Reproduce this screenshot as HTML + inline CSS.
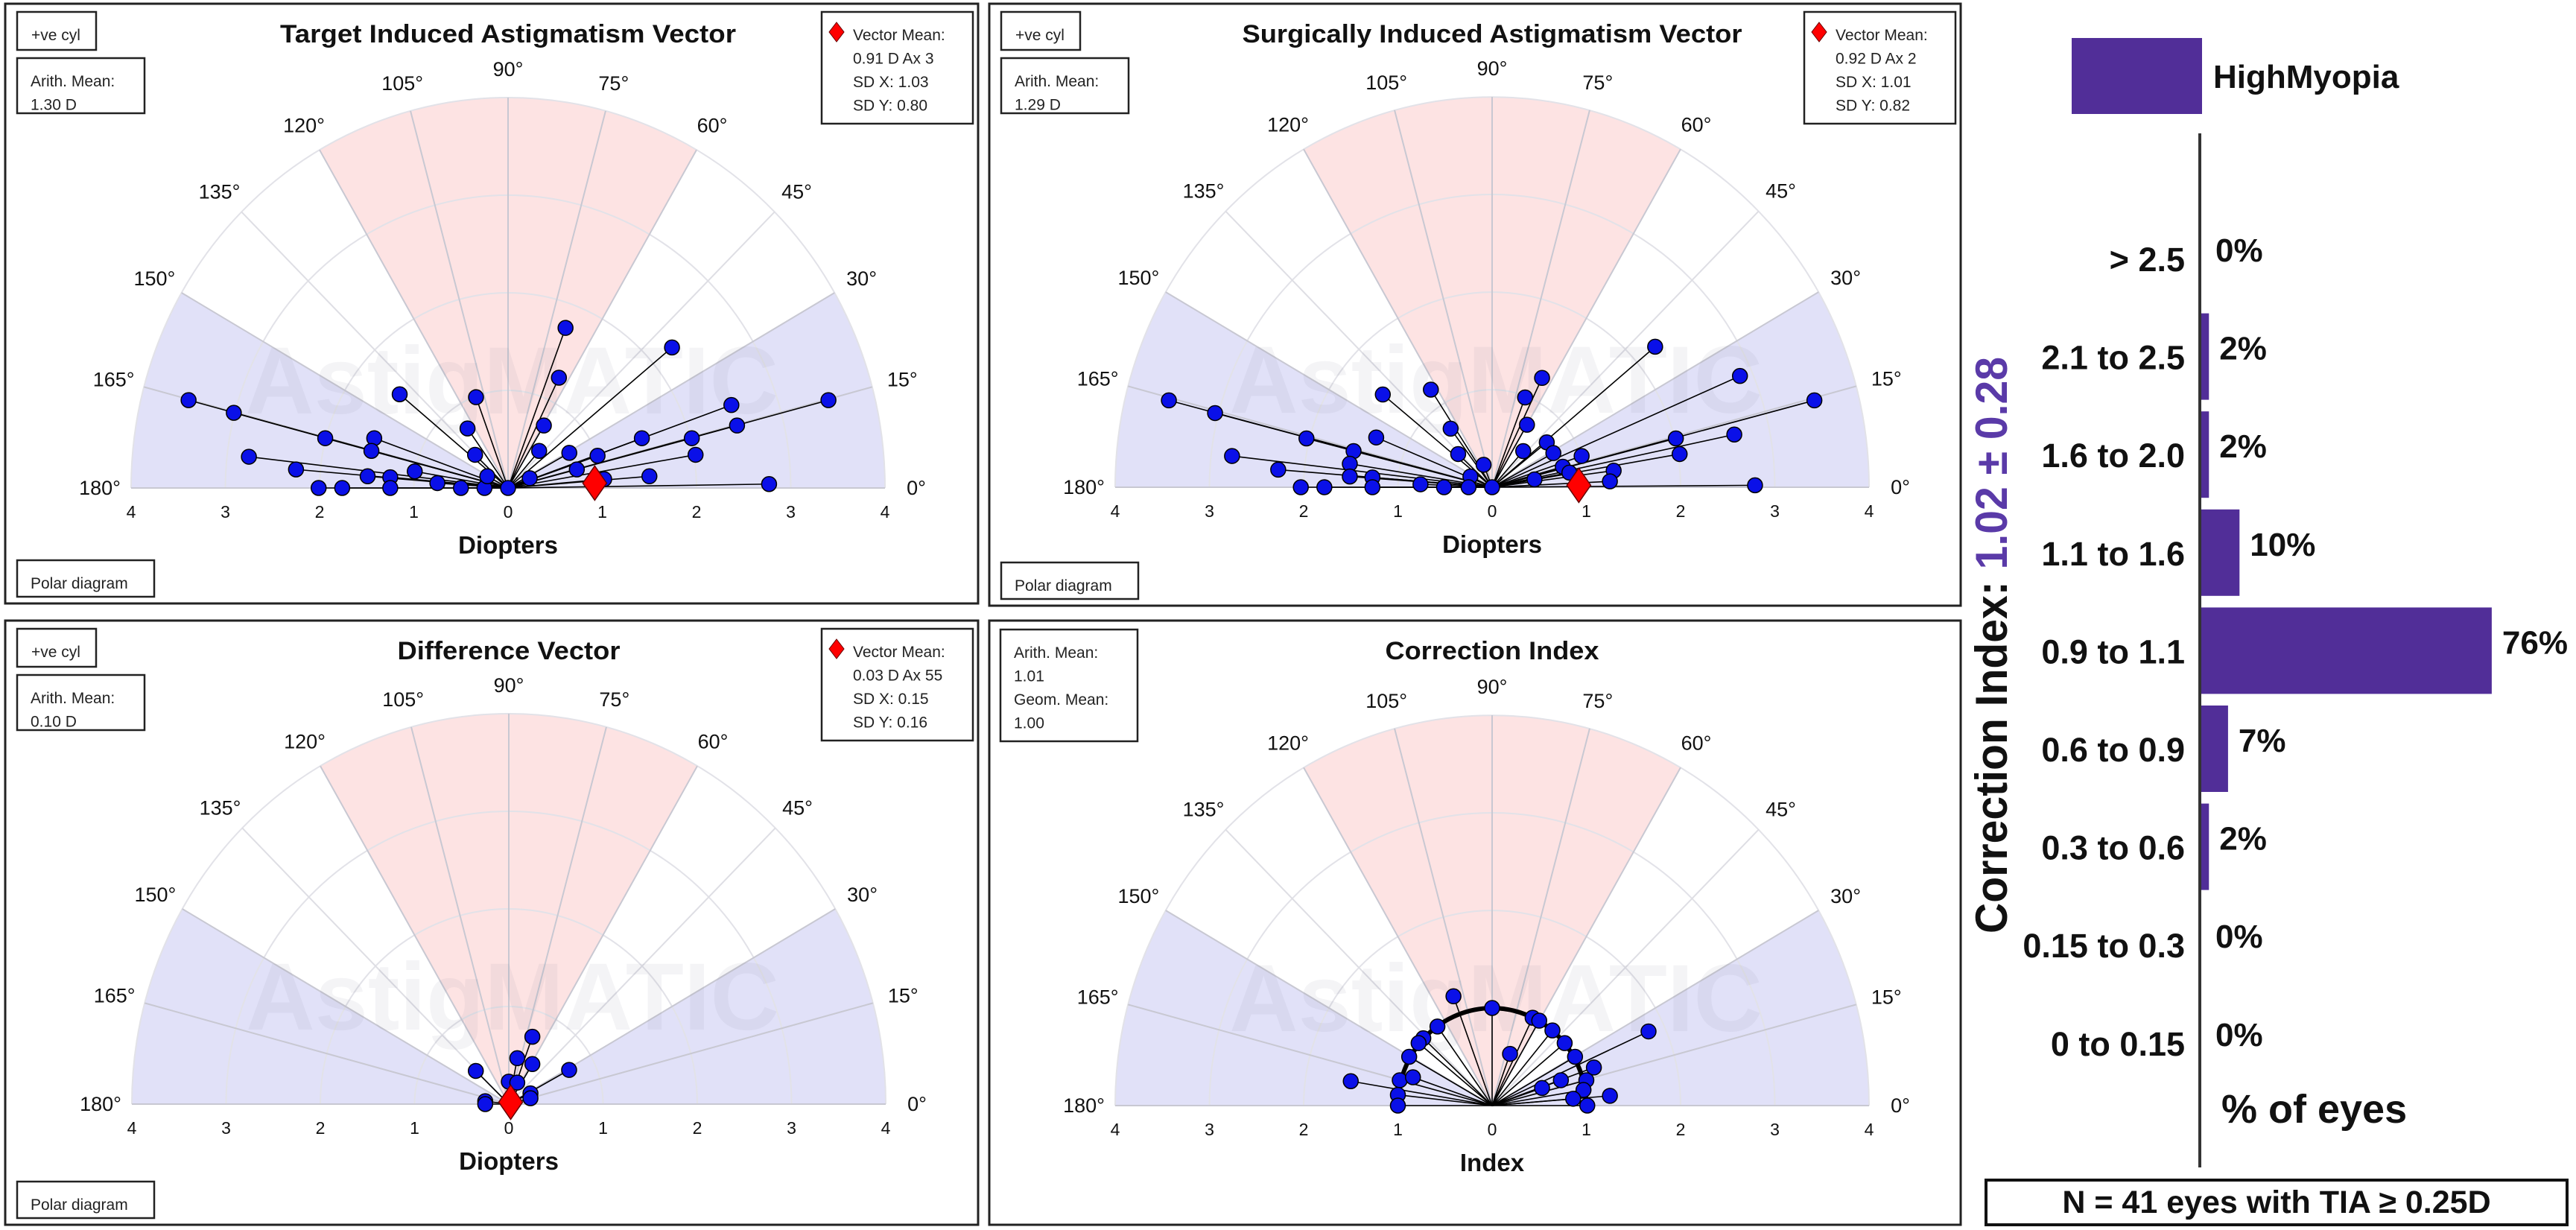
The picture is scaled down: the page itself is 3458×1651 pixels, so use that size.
<!DOCTYPE html>
<html><head><meta charset="utf-8"><style>
html,body{margin:0;padding:0;background:#fff;}
svg{display:block;}
text{font-family:"Liberation Sans",sans-serif;}
</style></head><body>
<svg id="root" xmlns="http://www.w3.org/2000/svg" width="3458" height="1651" viewBox="0 0 3458 1651"></svg>
<script>
// ---- data ----
const tiaX=[-3.39,-2.91,-1.94,-1.42,-1.45,-2.75,-2.25,-1.49,-1.25,-0.99,-0.75,-2.01,-1.76,-1.25,-0.50,-0.25,0,-1.15,-0.34,-0.43,-0.35,-0.22,0.61,0.54,0.38,0.33,0.23,1.74,0.65,0.95,0.73,1.02,1.50,1.42,1.95,1.99,2.37,2.43,3.40,2.77];
const tiaY=[0.90,0.77,0.51,0.51,0.38,0.32,0.19,0.12,0.11,0.17,0.05,0,0,0,0,0,0,0.96,0.93,0.61,0.34,0.12,1.64,1.13,0.64,0.38,0.10,1.44,0.36,0.33,0.19,0.09,0.12,0.51,0.51,0.34,0.85,0.64,0.90,0.04];
const tiaMean=[0.92,0.05];
const siaX=[-3.43,-2.94,-1.97,-1.47,-1.23,-1.16,-0.65,-0.44,-0.36,-0.09,-0.23,-2.76,-2.27,-1.51,-1.51,-1.27,-0.76,-2.03,-1.78,-1.27,-0.51,-0.25,0,0.53,0.35,0.37,0.33,0.58,0.65,0.95,0.75,0.82,0.45,1.73,2.63,3.42,1.95,2.57,1.99,1.29,1.25,2.79];
const siaY=[0.89,0.76,0.50,0.37,0.51,0.95,1.0,0.60,0.34,0.23,0.11,0.32,0.18,0.24,0.11,0.10,0.03,0,0,0,0,0,0,1.12,0.92,0.64,0.37,0.46,0.35,0.32,0.21,0.15,0.08,1.44,1.14,0.89,0.50,0.54,0.34,0.17,0.06,0.02];
const siaMean=[0.92,0.02];
const dvX=[0.25,0.09,0.25,0.64,-0.35,0,0.09,0.23,0.23,-0.25,-0.25];
const dvY=[0.69,0.47,0.41,0.35,0.34,0.23,0.22,0.11,0.06,0.03,0];
const dvMean=[0.02,0.02];
const ciX=[-0.41,0,0.19,0.43,0.50,0.64,0.77,0.88,1.08,1.0,0.97,0.73,0.53,0.86,1.25,1.01,1.66,-0.58,-0.73,-0.78,-0.88,-0.98,-0.84,-1.50,-1.0,-1.0];
const ciY=[1.12,1.0,0.53,0.90,0.87,0.77,0.64,0.50,0.39,0.26,0.16,0.26,0.18,0.07,0.10,0,0.76,0.81,0.69,0.64,0.50,0.26,0.29,0.25,0.11,0];
const radialTicks=[4,3,2,1,0,1,2,3,4];
const degreeTicks=[0,15,30,45,60,75,90,105,120,135,150,165,180];
const barCategories=["> 2.5","2.1 to 2.5","1.6 to 2.0","1.1 to 1.6","0.9 to 1.1","0.6 to 0.9","0.3 to 0.6","0.15 to 0.3","0 to 0.15"];
const barValues=[0,2,2,10,76,7,2,0,0];
const barLabels=["0%","2%","2%","10%","76%","7%","2%","0%","0%"];

const NS="http://www.w3.org/2000/svg";
const root=document.getElementById('root');
function mk(tag,attrs,parent){const e=document.createElementNS(NS,tag);for(const k in attrs)e.setAttribute(k,attrs[k]);(parent||root).appendChild(e);return e;}

const UX=126.5, UY=131;
function panel(p){
  const g=mk('g',{});
  
  
  const fr=mk('rect',{x:p.l,y:p.t,width:p.r-p.l,height:p.b-p.t,fill:'#fff',stroke:'#222','stroke-width':3},g);
  
  
  const cx=p.cx, cy=p.cy;
  const X=v=>cx+v*UX, Y=v=>cy-v*UY;
  const pol=(r,a)=>[cx+r*UX*Math.cos(a*Math.PI/180), cy-r*UY*Math.sin(a*Math.PI/180)];
  function sector(a0,a1,fill,nm){
    const p0=pol(4,a0),p1=pol(4,a1);
    const s=mk('path',{d:`M${cx},${cy} L${p0[0]},${p0[1]} A${4*UX},${4*UY} 0 0 0 ${p1[0]},${p1[1]} Z`,fill:fill},g);
    
    
  }
  sector(60,120,'#fde3e3','pink-sector');
  sector(0,30,'#e1e1f8','blue-sector-right');
  sector(150,180,'#e1e1f8','blue-sector-left');
  for(let r=1;r<=4;r++){
    const a=pol(r,0),b=pol(r,180);
    const ring=mk('path',{d:`M${a[0]},${a[1]} A${r*UX},${r*UY} 0 0 0 ${b[0]},${b[1]}`,fill:'none',stroke:'#e2e2e8','stroke-width':2},g);
    
    
  }
  for(const d of degreeTicks){
    const e=pol(4,d);
    const sp=mk('line',{x1:cx,y1:cy,x2:e[0],y2:e[1],stroke:(d>=60&&d<=120)||d<=30||d>=150?'#c8c8d2':'#dedee4','stroke-width':2},g);
    
    
    const lx=cx+(4*UX+42)*Math.cos(d*Math.PI/180), ly=cy-(4*UY+38)*Math.sin(d*Math.PI/180);
    const t=mk('text',{x:lx,y:ly+9,'text-anchor':'middle','font-size':27,fill:'#111'},g);
    t.textContent=d+'°';
    
    
  }
  const wm=mk('text',{x:cx+5,y:cy-100,'text-anchor':'middle','font-size':128,'font-weight':'bold',fill:'rgba(110,110,140,0.08)'},g);
  wm.textContent='AstigMATIC';
  
  
  radialTicks.forEach((v,i)=>{
    const t=mk('text',{x:X(i-4),y:cy+40,'text-anchor':'middle','font-size':23,fill:'#111'},g);
    t.textContent=v;
    
    
  });
  const ax=mk('text',{x:cx,y:cy+88,'text-anchor':'middle','font-size':33,'font-weight':'bold',fill:'#111'},g);
  ax.textContent=p.axis;
  
  
  const tt=mk('text',{x:cx,y:p.t+52,'text-anchor':'middle','font-size':34,'font-weight':'bold',fill:'#111',textLength:p.tl,lengthAdjust:'spacingAndGlyphs'},g);
  tt.textContent=p.title;
  
  
  if(p.unitArc){
    const a=pol(1,0),b=pol(1,180);
    const arc=mk('path',{d:`M${a[0]},${a[1]} A${UX},${UY} 0 0 0 ${b[0]},${b[1]}`,fill:'none',stroke:'#000','stroke-width':6},g);
    
    
  }
  p.xs.forEach((v,i)=>{
    const ln=mk('line',{x1:cx,y1:cy,x2:X(v),y2:Y(p.ys[i]),stroke:'#000','stroke-width':1.6},g);
    
    
  });
  p.xs.forEach((v,i)=>{
    const c=mk('circle',{cx:X(v),cy:Y(p.ys[i]),r:10,fill:'#0a10e8',stroke:'#000','stroke-width':1.5},g);
    
    
  });
  if(p.mean){
    const mx=X(p.mean[0]), my=Y(p.mean[1]);
    const dm=mk('path',{d:`M${mx},${my-23} L${mx+16},${my} L${mx},${my+23} L${mx-16},${my} Z`,fill:'#f00',stroke:'#600','stroke-width':1.5},g);
    
    
  }
  function box(x,y,w,h,lines,nm,tx,diamond){
    const bg=mk('g',{},g);
    
    
    mk('rect',{x:x,y:y,width:w,height:h,fill:'#fff',stroke:'#222','stroke-width':2.5},bg);
    lines.forEach((s,i)=>{
      const t=mk('text',{x:x+tx,y:y+38+i*31.5,'font-size':21,fill:'#222'},bg);
      t.textContent=s;
    });
    if(diamond){
      mk('path',{d:`M${x+20},${y+14} L${x+30},${y+27} L${x+20},${y+40} L${x+10},${y+27} Z`,fill:'#f00',stroke:'#600','stroke-width':1},bg);
    }
  }
  if(p.cyl) box(p.l+16,p.t+11,106,51,['+ve cyl'],'cyl-label-box',19);
  if(p.arith) box(p.l+16,p.t+73,171,74,p.arith,'arith-mean-box',18);
  if(p.vec) box(p.r-210,p.t+11,203,150,p.vec,'vector-mean-box',42,true);
  if(p.ci) box(p.l+15,p.t+12,184,150,p.ci,'mean-index-box',18);
  if(p.polar) box(p.l+16,p.b-58,184,49,['Polar diagram'],'polar-diagram-button',18);
}

panel({name:'tia-panel',l:7,t:5,r:1313,b:810,cx:682,cy:655,title:'Target Induced Astigmatism Vector',tl:612,axis:'Diopters',xs:tiaX,ys:tiaY,mean:tiaMean,cyl:1,arith:['Arith. Mean:','1.30 D'],vec:['Vector Mean:','0.91 D Ax 3','SD X: 1.03','SD Y: 0.80'],polar:1});
panel({name:'sia-panel',l:1328,t:5,r:2632,b:813,cx:2003,cy:654,title:'Surgically Induced Astigmatism Vector',tl:671,axis:'Diopters',xs:siaX,ys:siaY,mean:siaMean,cyl:1,arith:['Arith. Mean:','1.29 D'],vec:['Vector Mean:','0.92 D Ax 2','SD X: 1.01','SD Y: 0.82'],polar:1});
panel({name:'difference-vector-panel',l:7,t:833,r:1313,b:1644,cx:683,cy:1482,title:'Difference Vector',tl:299,axis:'Diopters',xs:dvX,ys:dvY,mean:dvMean,cyl:1,arith:['Arith. Mean:','0.10 D'],vec:['Vector Mean:','0.03 D Ax 55','SD X: 0.15','SD Y: 0.16'],polar:1});
panel({name:'correction-index-panel',l:1328,t:833,r:2632,b:1644,cx:2003,cy:1484,title:'Correction Index',tl:287,axis:'Index',xs:ciX,ys:ciY,unitArc:1,ci:['Arith. Mean:','1.01','Geom. Mean:','1.00']});

// ---- bar chart ----
const BX0=2955, BSC=5.13, BY0=347, BSTEP=131.6, BH=116;
const bc=mk('g',{});


const sw=mk('rect',{x:2781,y:51,width:175,height:102,fill:'#512e98'},bc);


const lt=mk('text',{x:2971,y:118,'font-size':44,'font-weight':'bold',fill:'#111'},bc);
lt.textContent='HighMyopia';


barCategories.forEach((c,i)=>{
  const yc=BY0+i*BSTEP;
  const t=mk('text',{x:2933,y:yc+17,'text-anchor':'end','font-size':45,'font-weight':'bold',fill:'#111'},bc);
  t.textContent=c;
  
  
  const w=barValues[i]*BSC;
  if(w>0){
    const r=mk('rect',{x:BX0,y:yc-BH/2,width:w,height:BH,fill:'#512e98'},bc);
    
    
  }
  const vl=mk('text',{x:BX0+w+(w>0?14:19),y:yc+4,'font-size':44,'font-weight':'bold',fill:'#111'},bc);
  vl.textContent=barLabels[i];
  
  
});
const axl=mk('line',{x1:2953,y1:179,x2:2953,y2:1567,stroke:'#333','stroke-width':4},bc);


const xt=mk('text',{x:2982,y:1507,'font-size':54,'font-weight':'bold',fill:'#111'},bc);
xt.textContent='% of eyes';


const yt=mk('text',{x:0,y:0,transform:'translate(2694,866) rotate(-90)','text-anchor':'middle','font-size':60,'font-weight':'bold',fill:'#111',textLength:774,lengthAdjust:'spacingAndGlyphs'},bc);


const ts1=mk('tspan',{},yt); ts1.textContent='Correction Index: ';
const ts2=mk('tspan',{fill:'#5a3aa8'},yt); ts2.textContent='1.02 ± 0.28';
const fb=mk('rect',{x:2666,y:1584,width:780,height:60,fill:'#fff',stroke:'#111','stroke-width':4},bc);


const ft=mk('text',{x:3056,y:1628,'text-anchor':'middle','font-size':43,'font-weight':'bold',fill:'#111'},bc);
ft.textContent='N = 41 eyes with TIA ≥ 0.25D';


</script>
</body></html>
